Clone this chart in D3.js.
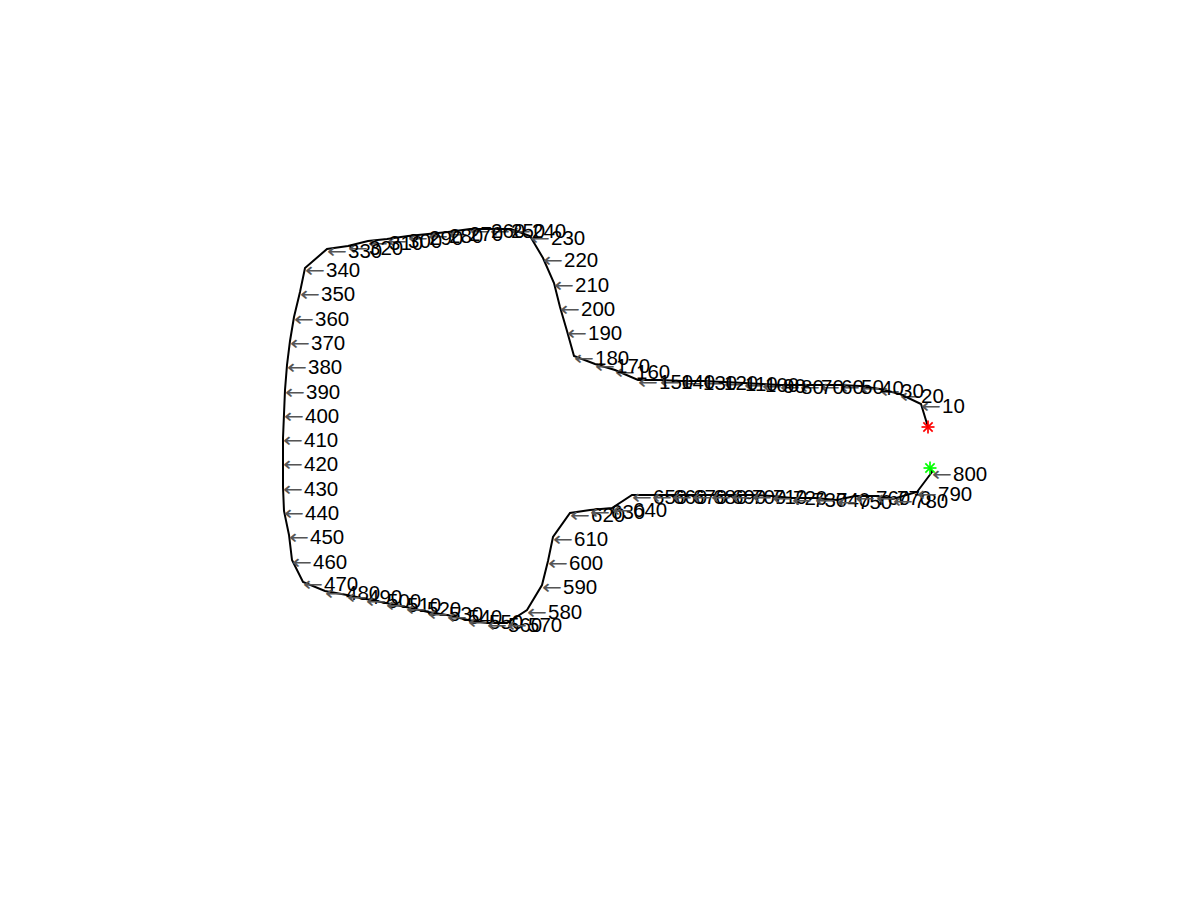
<!DOCTYPE html>
<html><head><meta charset="utf-8">
<script src="https://cdn.jsdelivr.net/npm/d3@7"></script>
<style>html,body{margin:0;padding:0;background:#fff;}</style>
</head><body>
<svg id="chart" width="1200" height="900"></svg>
<script>
// Waypoint indices that carry a label (every 10th sample of the trajectory)
const labelIds = [10,20,30,40,50,60,70,80,90,100,110,120,130,140,150,160,170,180,190,200,
  210,220,230,240,250,260,270,280,290,300,310,320,330,340,350,360,370,380,390,400,
  410,420,430,440,450,460,470,480,490,500,510,520,530,540,550,560,570,580,590,600,
  610,620,630,640,650,660,670,680,690,700,710,720,730,740,750,760,770,780,790,800];
// Trajectory coordinates of those samples (x, y in map units)
const labelX = [765,744,724,704,684,664,644,624,606,588,568,547,526,504,482,459,439,418,411,404,
  398,387,374,355,334,314,292,272,252,231,212,192,171,149,144,138,134,131,129,128,
  127,127,127,128,133,136,147,169,191,210,230,250,272,291,312,331,351,371,386,392,
  397,414,434,456,476,496,516,536,555,575,596,616,636,659,681,699,720,737,761,776];
const labelY = [396,406,411,414,415,415,415,415,416,417,418,419,419,420,420,430,436,444,469,493,
  517,542,564,571,571,571,568,566,564,561,559,554,551,532,508,483,459,435,410,386,
  362,338,313,289,265,240,218,209,205,201,197,193,188,185,180,177,177,190,215,239,
  263,287,290,292,305,305,305,305,305,305,305,304,302,302,300,304,304,301,308,328];
const startPoint = [772, 373];
const endPoint = [774, 332];

const svg = d3.select("#chart");
const x = d3.scaleLinear().domain([0, 930]).range([156, 1086]);
const y = d3.scaleLinear().domain([0, 734]).range([800, 66]);

const pts = [startPoint].concat(labelX.map((v, i) => [v, labelY[i]])).concat([endPoint]);

svg.append("path")
  .datum(pts)
  .attr("fill", "none")
  .attr("stroke", "#000")
  .attr("stroke-width", 2)
  .attr("stroke-linejoin", "miter")
  .attr("d", d3.line().x(d => x(d[0])).y(d => y(d[1])));

const labels = svg.append("g");
labelIds.forEach((id, i) => {
  const px = x(labelX[i]), py = y(labelY[i]) + 1.5;
  labels.append("text")
    .attr("x", px).attr("y", py)
    .attr("dominant-baseline", "central")
    .attr("font-family", "DejaVu Sans")
    .attr("font-size", 20)
    .attr("fill", "#555")
    .attr("textLength", 20).attr("lengthAdjust", "spacingAndGlyphs")
    .text("\u2190");
  labels.append("text")
    .attr("x", px + 21).attr("y", py)
    .attr("dominant-baseline", "central")
    .attr("font-family", "Liberation Sans, Arial, sans-serif")
    .attr("font-size", 20.5)
    .attr("fill", "#000")
    .text(id);
});

function asterisk(p, color) {
  const cx = x(p[0]), cy = y(p[1]), r = 6.5;
  const g = svg.append("g").attr("stroke", color).attr("stroke-width", 1.7);
  g.append("line").attr("x1", cx - r).attr("x2", cx + r).attr("y1", cy).attr("y2", cy);
  g.append("line").attr("x1", cx).attr("x2", cx).attr("y1", cy - r).attr("y2", cy + r);
  const d = r * 0.72;
  g.append("line").attr("x1", cx - d).attr("x2", cx + d).attr("y1", cy - d).attr("y2", cy + d);
  g.append("line").attr("x1", cx - d).attr("x2", cx + d).attr("y1", cy + d).attr("y2", cy - d);
}
asterisk(startPoint, "#ff0000");
asterisk(endPoint, "#00ff00");
</script>
</body></html>
